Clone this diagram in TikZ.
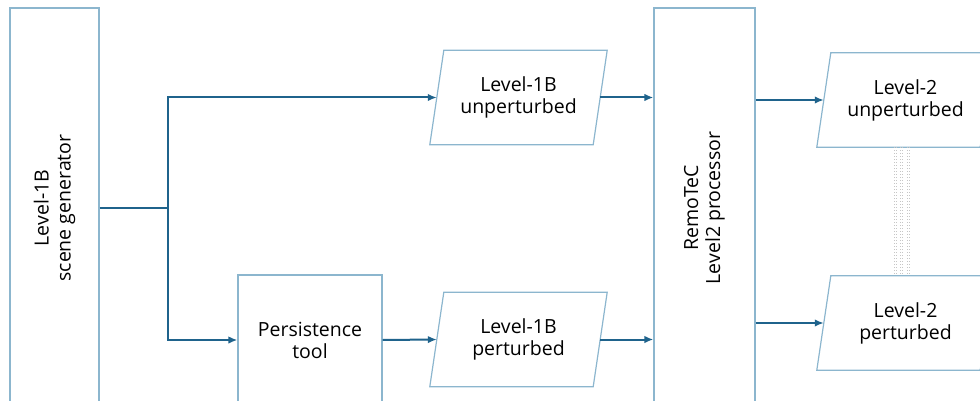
\documentclass[tikz,border=0pt]{standalone}
\usepackage{fontspec}
\setmainfont{Open Sans}
\usetikzlibrary{arrows.meta}

\definecolor{boxblue}{RGB}{140,182,206}
\definecolor{flowblue}{RGB}{31,99,140}

\tikzset{
    box/.style={draw=boxblue, line width=1.2pt, align=center, inner sep=0pt},
    iobox/.style={align=center, inner sep=0pt, minimum width=163pt, minimum height=94pt},
    link/.style={draw=flowblue, line width=2pt},
    flow/.style={link, -{Latex[length=9pt,width=7.5pt]}}
}

\begin{document}
\begin{tikzpicture}[x=1pt, y=-1pt, font=\fontsize{19.5}{22}\selectfont]
        \useasboundingbox (0,0) rectangle (980,401);
        \clip (0,0) rectangle (980,401);

        \node[box, minimum width=89pt, minimum height=400pt,
            label={[rotate=90, align=center]center:Level-1B\\scene generator}] (gen) at (54.5,208) {};
        \node[box, minimum width=101pt, minimum height=400pt,
            label={[rotate=90, align=center]center:RemoTeC\\Level2 processor}] (rem) at (704.5,208) {};
        \node[box, minimum width=144pt, minimum height=130pt] (pers) at (310,340) {Persistence\\tool};

        \node[iobox] (u1) at (518.5,97.5) {Level-1B\\unperturbed};
        \node[iobox] (p1) at (518.5,339.5) {Level-1B\\perturbed};
        \node[iobox] (u2) at (905.5,100) {Level-2\\unperturbed};
        \node[iobox] (p2) at (905.5,323) {Level-2\\perturbed};

        \foreach \n in {u1, p1, u2, p2} {
            \draw[draw=boxblue, line width=1.2pt]
                ([xshift=7pt]\n.north west) -- ([xshift=7pt]\n.north east)
                -- ([xshift=-7pt]\n.south east) -- ([xshift=-7pt]\n.south west) -- cycle;
        }

        \coordinate (split) at (168,208);
        \draw[link] (gen.east |- split) -- (split);
        \draw[flow] (split) |- (u1.west);
        \draw[flow] (split) |- (pers.west);
        \draw[flow] (pers.east) -- (p1.west);
        \draw[flow] (u1.east) -- (rem.west |- u1.east);
        \draw[flow] (p1.east) -- (rem.west |- p1.east);
        \draw[flow] (rem.east |- u2.west) -- (u2.west);
        \draw[flow] (rem.east |- p2.west) -- (p2.west);

        \foreach \dx in {-11.2, -9.2, -4.8, -2.8, 1.5, 3.8} {
            \draw[gray!45, line width=0.7pt, dash pattern=on 1.2pt off 1.8pt]
                ([xshift=\dx pt]u2.south) -- ([xshift=\dx pt]p2.north);
        }
    \end{tikzpicture}
\end{document}
